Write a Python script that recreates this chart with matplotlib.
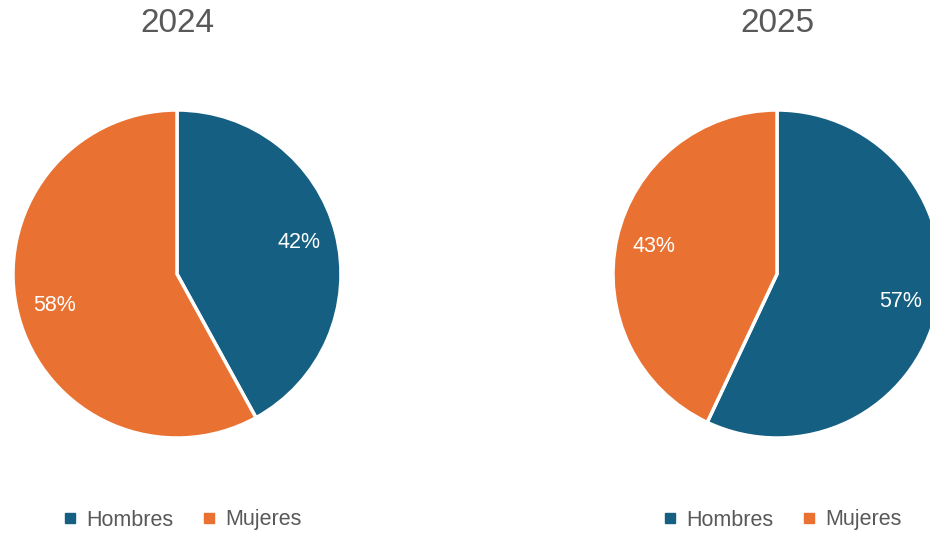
import numpy as np
import matplotlib.pyplot as plt
from matplotlib.lines import Line2D
from matplotlib.legend import Legend

plt.rcParams['font.family'] = ['Liberation Sans', 'DejaVu Sans']

# data
years = ['2024', '2025']
labels = ['Hombres', 'Mujeres']
hombres = [42, 57]
mujeres = [58, 43]
colors = ['#156082', '#E97132']

W, H = 930, 533
fig = plt.figure(figsize=(W / 100, H / 100), dpi=100)
ax = fig.add_axes([0, 0, 1, 1])

# pie centres in pixels (x from left, y from top)
centres = [(177, 274), (777, 274)]
radius = 164

for i, year in enumerate(years):
    cx, cy = centres[i]
    vals = [hombres[i], mujeres[i]]
    ax.pie(vals, colors=colors, startangle=90, counterclock=False,
           center=(cx, H - cy), radius=radius,
           autopct='%d%%', pctdistance=0.77,
           wedgeprops=dict(edgecolor='white', linewidth=2.5),
           textprops=dict(color='white', fontsize=15.5))
    ax.text(cx, H - 23, year, ha='center', va='center',
            fontsize=24, color='#595959')
    handles = [Line2D([], [], marker='s', linestyle='none', markersize=7,
                      color=c) for c in colors]
    leg = Legend(ax, handles, labels, loc='center', ncol=2,
                 bbox_to_anchor=(cx + 5, H - 520),
                 bbox_transform=ax.transData, frameon=False,
                 fontsize=15.5, handlelength=0.7, handletextpad=0.4,
                 columnspacing=1.3, labelcolor='#595959')
    ax.add_artist(leg)

ax.set_xlim(0, W)
ax.set_ylim(0, H)
ax.set_aspect('equal')
ax.axis('off')

fig.savefig('out.png', dpi=100)
